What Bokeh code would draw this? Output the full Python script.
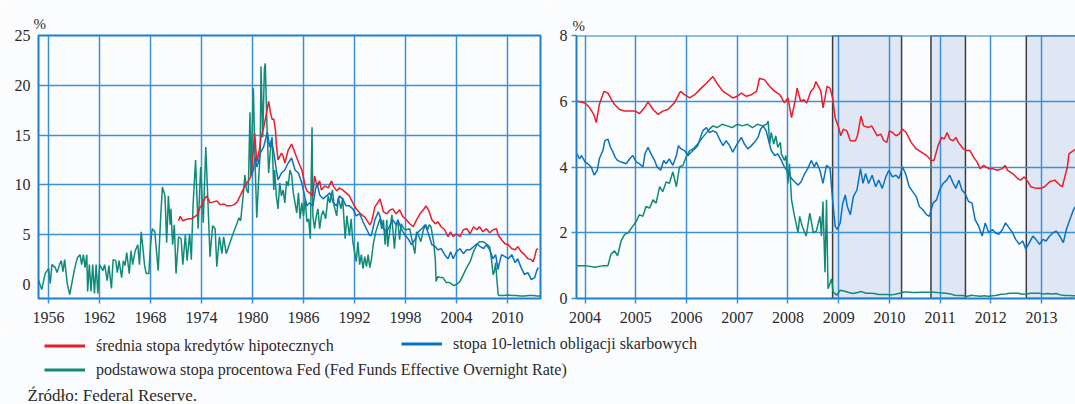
from bokeh.plotting import figure
from bokeh.models import FixedTicker, Label, Legend, LegendItem, Span, Range1d
from bokeh.layouts import column, row
from bokeh.embed import file_html
from bokeh.resources import INLINE

# ---------------- data: long panel (1955-2013) ----------------
fed_long_year = [1954.84, 1955.2, 1955.6, 1956.0, 1956.2, 1956.4, 1956.8, 1957.0, 1957.3, 1957.5, 1957.7, 1957.9,
                 1958.2, 1958.5, 1958.8, 1959.1, 1959.4, 1959.7, 1959.9, 1960.1, 1960.3, 1960.5, 1960.6, 1960.8,
                 1961.0, 1961.2, 1961.4, 1961.6, 1961.8, 1962.0, 1962.4, 1962.6, 1962.9, 1963.1, 1963.4, 1963.6,
                 1963.9, 1964.1, 1964.3, 1964.6, 1964.8, 1965.0, 1965.2, 1965.5, 1965.7, 1965.9, 1966.2, 1966.5,
                 1966.7, 1966.9, 1967.1, 1967.3, 1967.5, 1967.8, 1968.0, 1968.2, 1968.5, 1968.7, 1968.9, 1969.2,
                 1969.4, 1969.7, 1969.9, 1970.1, 1970.3, 1970.4, 1970.6, 1970.8, 1971.0, 1971.3, 1971.6, 1971.8,
                 1972.1, 1972.3, 1972.5, 1972.6, 1972.8, 1973.0, 1973.3, 1973.6, 1973.9, 1974.2, 1974.5, 1974.7,
                 1975.0, 1975.3, 1975.6, 1975.8, 1976.1, 1976.4, 1976.6, 1976.9, 1977.3, 1977.5, 1977.8, 1978.2,
                 1978.4, 1978.6, 1978.9, 1979.1, 1979.3, 1979.5, 1979.7, 1979.8, 1980.1, 1980.3, 1980.5, 1980.7,
                 1980.9, 1981.0, 1981.2, 1981.4, 1981.5, 1981.7, 1981.9, 1982.1, 1982.3, 1982.5, 1982.6, 1982.8,
                 1983.0, 1983.2, 1983.4, 1983.6, 1983.8, 1984.0, 1984.2, 1984.4, 1984.6, 1984.8, 1985.0, 1985.2,
                 1985.4, 1985.6, 1985.8, 1986.0, 1986.2, 1986.4, 1986.6, 1986.8, 1987.0, 1987.1, 1987.3, 1987.5,
                 1987.7, 1987.9, 1988.1, 1988.3, 1988.6, 1988.9, 1989.1, 1989.4, 1989.6, 1989.9, 1990.1, 1990.4,
                 1990.6, 1990.9, 1991.1, 1991.4, 1991.6, 1991.8, 1992.0, 1992.2, 1992.4, 1992.6, 1992.8, 1993.0,
                 1993.2, 1993.4, 1993.6, 1993.8, 1994.0, 1994.2, 1994.5, 1994.8, 1995.0, 1995.2, 1995.4, 1995.6,
                 1995.8, 1995.9, 1996.4, 1996.5, 1996.7, 1996.9, 1997.1, 1997.3, 1997.5, 1997.8, 1998.1, 1998.5,
                 1998.8, 1999.1, 1999.3, 1999.5, 1999.8, 2000.1, 2000.4, 2000.6, 2000.8, 2001.0, 2001.3, 2001.5,
                 2001.6, 2001.8, 2002.1, 2002.4, 2002.8, 2003.2, 2003.5, 2003.7, 2004.0, 2004.4, 2004.8, 2005.2,
                 2005.6, 2006.0, 2006.4, 2006.7, 2007.1, 2007.5, 2007.9, 2008.1, 2008.3, 2008.45, 2008.6, 2008.75,
                 2008.9, 2009.0, 2009.5, 2010.0, 2010.5, 2011.0, 2011.5, 2012.0, 2012.5, 2013.0, 2013.5, 2013.85]
fed_long_val = [0.4, -0.5, 1.1, 1.6, 0.1, 2.0, 1.7, 1.2, 2.0, 2.4, 1.3, 2.5,
                0.1, -1.0, 0.4, 1.7, 2.7, 3.0, 2.0, 3.0, 1.7, 3.0, -0.7, 2.0,
                -0.7, 2.0, -0.9, 2.0, -0.9, 2.0, 1.4, 2.0, 0.4, 1.9, -0.4, 2.5,
                2.4, 1.2, 2.4, 0.7, 2.4, 1.9, 3.2, 1.1, 3.4, 2.0, 3.4, 4.0,
                2.0, 5.3, 3.7, 1.9, 1.1, 1.1, 4.0, 5.6, 5.3, 3.4, 1.4, 6.9,
                9.8, 8.9, 4.2, 8.9, 6.0, 7.6, 4.0, 6.0, 1.1, 4.8, 4.6, 2.0,
                5.0, 2.4, 4.2, 5.1, 2.5, 7.9, 12.5, 5.6, 11.8, 6.2, 13.8, 9.5,
                2.8, 5.9, 5.6, 1.8, 4.8, 3.1, 4.8, 3.1, 4.1, 4.6, 5.3, 6.2,
                6.7, 6.4, 8.9, 11.0, 9.5, 9.2, 17.3, 10.9, 19.7, 12.2, 6.7, 10.2,
                13.2, 21.9, 14.8, 21.7, 22.2, 15.8, 11.2, 13.5, 14.8, 9.5, 11.5, 8.9,
                7.6, 10.2, 8.9, 9.5, 8.2, 10.4, 9.9, 11.5, 11.0, 9.2, 8.2, 7.2,
                9.2, 6.6, 8.2, 6.9, 8.6, 6.3, 6.6, 4.6, 15.8, 6.9, 5.6, 6.9,
                7.6, 5.6, 6.9, 7.4, 6.6, 8.9, 8.2, 9.5, 7.9, 6.9, 8.7, 7.6,
                8.7, 4.6, 6.9, 4.9, 6.6, 4.3, 3.3, 2.3, 4.3, 2.0, 3.0, 1.6,
                2.8, 1.8, 3.0, 1.7, 2.6, 4.0, 5.3, 6.1, 6.6, 5.6, 6.5, 4.0,
                6.5, 3.8, 7.0, 5.6, 3.6, 6.0, 6.3, 4.5, 6.1, 5.6, 5.5, 5.6,
                4.3, 3.1, 5.3, 5.0, 4.3, 5.5, 6.0, 5.5, 6.0, 5.8, 4.3, 2.6,
                0.3, 0.8, 0.7, 0.7, 0.2, 0.2, 0.0, -0.1, 0.0, 0.3, 1.0, 1.7,
                2.3, 3.3, 4.0, 4.3, 4.3, 4.1, 3.8, 2.6, 1.0, 1.3, 2.2, 0.5,
                -1.0, -1.1, -1.1, -1.05, -1.1, -1.1, -1.15, -1.15, -1.1, -1.1, -1.15, -1.15]

mort_long_year = [1971.3, 1971.5, 1971.8, 1972.1, 1972.5, 1972.8, 1973.0, 1973.5, 1973.8, 1974.0, 1974.3, 1974.6,
                  1975.0, 1975.4, 1975.8, 1976.2, 1976.6, 1977.0, 1977.4, 1977.8, 1978.2, 1978.6, 1979.1, 1979.5,
                  1979.8, 1980.0, 1980.25, 1980.5, 1980.8, 1981.0, 1981.3, 1981.6, 1981.9, 1982.1, 1982.3, 1982.5,
                  1982.7, 1982.8, 1983.0, 1983.4, 1983.6, 1983.8, 1984.2, 1984.6, 1985.0, 1985.4, 1985.8, 1986.2,
                  1986.4, 1986.7, 1987.1, 1987.3, 1987.6, 1987.9, 1988.1, 1988.5, 1988.9, 1989.3, 1989.5, 1989.9,
                  1990.2, 1990.6, 1991.0, 1991.4, 1991.8, 1992.2, 1992.6, 1993.0, 1993.2, 1993.5, 1993.8, 1994.0,
                  1994.4, 1994.8, 1995.0, 1995.4, 1995.8, 1996.2, 1996.5, 1996.9, 1997.3, 1997.7, 1998.1, 1998.5,
                  1998.9, 1999.3, 1999.7, 2000.1, 2000.4, 2000.7, 2001.1, 2001.5, 2001.8, 2002.2, 2002.6, 2003.0,
                  2003.3, 2003.6, 2004.0, 2004.4, 2004.8, 2005.2, 2005.6, 2006.0, 2006.4, 2006.7, 2007.1, 2007.5,
                  2007.9, 2008.3, 2008.7, 2008.9, 2009.3, 2009.7, 2010.1, 2010.5, 2010.9, 2011.2, 2011.6, 2012.0,
                  2012.4, 2012.8, 2013.0, 2013.2, 2013.4, 2013.6]
mort_long_val = [6.4, 6.85, 6.4, 6.5, 6.6, 6.6, 6.7, 7.0, 7.7, 7.9, 8.5, 8.9,
                 8.2, 8.3, 8.4, 8.0, 8.1, 7.9, 7.9, 8.0, 8.3, 9.0, 9.9, 10.4,
                 10.8, 12.4, 15.2, 12.3, 13.5, 14.8, 15.7, 17.0, 18.4, 17.3, 16.6, 16.6,
                 15.5, 14.1, 12.5, 13.2, 12.9, 12.2, 13.5, 14.1, 13.2, 12.3, 11.5, 9.9,
                 9.4, 9.2, 8.9, 10.9, 9.9, 10.4, 9.5, 9.9, 9.7, 10.4, 9.9, 9.4,
                 9.7, 9.5, 9.2, 8.9, 8.2, 7.6, 7.2, 6.9, 6.8, 6.4, 6.0, 6.3,
                 7.8, 8.3, 8.6, 7.3, 7.1, 7.5, 7.6, 7.1, 7.5, 6.8, 6.5, 6.1,
                 5.8, 6.5, 7.1, 7.5, 7.9, 7.5, 6.5, 6.1, 6.3, 5.8, 5.5, 4.8,
                 5.3, 4.8, 5.1, 4.8, 5.5, 5.6, 5.1, 5.8, 5.5, 5.8, 5.3, 5.6,
                 5.2, 5.5, 5.6, 4.97, 4.5, 4.1, 4.0, 3.6, 3.5, 3.8, 3.3, 3.0,
                 2.6, 2.5, 2.3, 2.8, 3.5, 3.6]

bond_long_year = [1979.9, 1980.1, 1980.3, 1980.5, 1980.7, 1980.9, 1981.3, 1981.6, 1981.75, 1982.0, 1982.2, 1982.5,
                  1982.8, 1983.0, 1983.4, 1983.8, 1984.2, 1984.6, 1985.0, 1985.4, 1985.8, 1986.2, 1986.4, 1986.7,
                  1987.1, 1987.4, 1987.6, 1987.9, 1988.3, 1988.7, 1989.1, 1989.5, 1989.9, 1990.2, 1990.6, 1991.0,
                  1991.4, 1991.8, 1992.2, 1992.6, 1993.0, 1993.4, 1993.8, 1994.0, 1994.4, 1994.8, 1995.0, 1995.4,
                  1995.8, 1996.2, 1996.5, 1996.9, 1997.1, 1997.5, 1997.9, 1998.3, 1998.7, 1999.1, 1999.5, 1999.9,
                  2000.3, 2000.7, 2001.1, 2001.5, 2001.8, 2002.2, 2002.6, 2003.0, 2003.3, 2003.6, 2004.0, 2004.4,
                  2004.8, 2005.2, 2005.6, 2006.0, 2006.4, 2006.8, 2007.2, 2007.5, 2007.9, 2008.3, 2008.6, 2008.9,
                  2009.0, 2009.3, 2009.7, 2010.1, 2010.5, 2010.9, 2011.2, 2011.6, 2012.0, 2012.4, 2012.8, 2013.2,
                  2013.4, 2013.6]
bond_long_val = [11.0, 11.5, 12.8, 11.8, 12.3, 13.2, 13.8, 14.8, 15.3, 13.8, 14.5, 13.3,
                 11.5, 10.5, 11.2, 11.5, 12.2, 12.7, 11.5, 11.2, 10.2, 8.6, 7.9, 8.2,
                 7.9, 9.5, 10.2, 9.0, 8.6, 8.9, 9.2, 8.2, 7.9, 8.9, 8.6, 7.9,
                 7.9, 7.6, 6.9, 7.1, 6.3, 5.6, 4.9, 5.0, 6.5, 7.3, 6.8, 5.6,
                 5.3, 6.0, 6.5, 6.0, 6.5, 5.6, 5.0, 4.6, 4.0, 4.5, 5.3, 5.6,
                 6.0, 5.1, 4.0, 3.8, 3.5, 3.6, 3.0, 2.6, 3.3, 2.6, 3.3, 3.6,
                 3.1, 3.5, 3.5, 3.8, 4.1, 3.8, 3.6, 4.0, 3.5, 2.6, 3.0, 1.5,
                 2.0, 3.0, 2.8, 2.6, 3.0, 2.2, 2.6, 1.7, 1.0, 1.2, 0.5, 0.7,
                 1.3, 1.7]

# ---------------- data: recent panel (2004-2013) ----------------
mort_year = [2003.84, 2004.0, 2004.09, 2004.17, 2004.22, 2004.28, 2004.37, 2004.45, 2004.52, 2004.58, 2004.68, 2004.78,
             2004.99, 2005.07, 2005.17, 2005.24, 2005.34, 2005.44, 2005.53, 2005.63, 2005.76, 2005.88, 2005.96, 2006.06,
             2006.16, 2006.29, 2006.39, 2006.52, 2006.62, 2006.72, 2006.82, 2006.91, 2007.0, 2007.08, 2007.18, 2007.28,
             2007.38, 2007.44, 2007.54, 2007.64, 2007.74, 2007.84, 2007.93, 2008.0, 2008.07, 2008.14, 2008.18, 2008.25,
             2008.31, 2008.37, 2008.45, 2008.51, 2008.55, 2008.6, 2008.65, 2008.69, 2008.73, 2008.77, 2008.83, 2008.88,
             2008.93, 2009.0, 2009.04, 2009.09, 2009.16, 2009.23, 2009.33, 2009.37, 2009.44, 2009.49, 2009.59, 2009.65,
             2009.76, 2009.83, 2009.89, 2009.95, 2010.0, 2010.06, 2010.13, 2010.19, 2010.26, 2010.33, 2010.43, 2010.53,
             2010.63, 2010.73, 2010.83, 2010.88, 2010.96, 2011.03, 2011.08, 2011.14, 2011.19, 2011.26, 2011.31, 2011.36,
             2011.46, 2011.53, 2011.59, 2011.66, 2011.73, 2011.79, 2011.86, 2011.96, 2012.03, 2012.13, 2012.23, 2012.28,
             2012.33, 2012.43, 2012.53, 2012.59, 2012.66, 2012.73, 2012.79, 2012.89, 2012.99, 2013.06, 2013.16, 2013.26,
             2013.36, 2013.41, 2013.46, 2013.51, 2013.54, 2013.63, 2013.68, 2013.72]
mort_val = [6.00, 5.95, 5.80, 5.60, 5.35, 5.90, 6.30, 6.25, 6.05, 5.90, 5.75, 5.70,
            5.70, 5.62, 5.80, 5.98, 5.75, 5.60, 5.70, 5.75, 5.95, 6.30, 6.20, 6.10,
            6.20, 6.40, 6.55, 6.75, 6.50, 6.30, 6.20, 6.10, 6.15, 6.25, 6.15, 6.20,
            6.30, 6.70, 6.65, 6.45, 6.30, 6.20, 5.95, 6.10, 5.50, 6.00, 6.40, 6.00,
            6.05, 5.95, 6.30, 6.40, 6.60, 6.45, 6.30, 5.80, 6.10, 6.45, 6.40, 6.10,
            5.50, 5.20, 4.95, 5.15, 5.10, 4.80, 4.80, 4.95, 5.55, 5.25, 5.20, 5.25,
            4.95, 5.00, 4.80, 4.75, 5.10, 5.05, 4.95, 5.00, 5.15, 5.05, 4.75, 4.55,
            4.45, 4.35, 4.20, 4.20, 4.65, 4.90, 4.85, 5.05, 4.85, 4.80, 4.90, 4.75,
            4.55, 4.50, 4.50, 4.30, 4.15, 3.95, 4.05, 3.95, 3.95, 3.90, 3.95, 4.05,
            3.90, 3.80, 3.65, 3.60, 3.70, 3.55, 3.40, 3.35, 3.35, 3.40, 3.55, 3.60,
            3.45, 3.40, 3.70, 4.00, 4.40, 4.50, 4.55, 4.60]

bond_year = [2003.84, 2003.89, 2003.93, 2004.0, 2004.05, 2004.12, 2004.18, 2004.24, 2004.28, 2004.35, 2004.39, 2004.45,
             2004.5, 2004.55, 2004.59, 2004.64, 2004.71, 2004.81, 2004.88, 2004.94, 2005.01, 2005.07, 2005.14, 2005.18,
             2005.24, 2005.3, 2005.37, 2005.42, 2005.49, 2005.55, 2005.6, 2005.66, 2005.73, 2005.8, 2005.84, 2005.89,
             2005.96, 2006.03, 2006.09, 2006.16, 2006.22, 2006.32, 2006.39, 2006.45, 2006.52, 2006.59, 2006.65, 2006.72,
             2006.78, 2006.85, 2006.91, 2006.98, 2007.08, 2007.14, 2007.21, 2007.28, 2007.34, 2007.41, 2007.46, 2007.51,
             2007.57, 2007.62, 2007.67, 2007.74, 2007.8, 2007.87, 2007.93, 2008.0, 2008.07, 2008.13, 2008.2, 2008.26,
             2008.33, 2008.39, 2008.46, 2008.52, 2008.56, 2008.63, 2008.69, 2008.76, 2008.83, 2008.88, 2008.93, 2008.97,
             2009.03, 2009.08, 2009.13, 2009.17, 2009.23, 2009.29, 2009.36, 2009.43, 2009.48, 2009.53, 2009.59, 2009.66,
             2009.73, 2009.79, 2009.86, 2009.93, 2009.99, 2010.06, 2010.13, 2010.19, 2010.26, 2010.33, 2010.39, 2010.46,
             2010.53, 2010.59, 2010.66, 2010.73, 2010.79, 2010.86, 2010.93, 2010.99, 2011.06, 2011.13, 2011.19, 2011.26,
             2011.31, 2011.37, 2011.43, 2011.49, 2011.56, 2011.63, 2011.69, 2011.76, 2011.83, 2011.89, 2011.96, 2012.03,
             2012.09, 2012.16, 2012.23, 2012.29, 2012.36, 2012.43, 2012.49, 2012.56, 2012.63, 2012.69, 2012.76, 2012.83,
             2012.89, 2012.96, 2013.03, 2013.09, 2013.16, 2013.23, 2013.29, 2013.36, 2013.43, 2013.49, 2013.56, 2013.63,
             2013.69]
bond_val = [4.40, 4.25, 4.35, 4.15, 4.10, 4.00, 3.75, 3.90, 4.25, 4.50, 4.80, 4.85,
            4.60, 4.45, 4.30, 4.20, 4.15, 4.10, 4.25, 4.35, 4.15, 4.10, 4.00, 4.40,
            4.60, 4.40, 4.20, 4.00, 3.90, 4.20, 4.10, 4.25, 4.05, 4.35, 4.65, 4.55,
            4.50, 4.35, 4.45, 4.55, 4.65, 5.10, 5.20, 5.05, 5.10, 5.05, 4.85, 4.65,
            4.80, 4.65, 4.45, 4.65, 4.90, 4.70, 4.55, 4.65, 4.75, 4.90, 5.15, 5.25,
            5.10, 4.80, 4.50, 4.35, 4.40, 4.20, 4.00, 3.85, 3.65, 3.55, 3.45, 3.55,
            3.80, 3.95, 4.20, 4.00, 4.15, 3.90, 3.50, 4.05, 3.95, 3.00, 2.20, 2.10,
            2.30, 2.90, 3.15, 2.80, 2.55, 3.10, 3.30, 3.95, 3.50, 3.80, 3.50, 3.75,
            3.40, 3.60, 3.35, 3.70, 3.90, 3.70, 3.75, 3.65, 4.00, 3.75, 3.40, 3.25,
            3.10, 2.80, 2.70, 2.55, 2.50, 2.90, 3.00, 3.30, 3.50, 3.60, 3.75, 3.50,
            3.35, 3.60, 3.30, 3.20, 2.95, 2.90, 2.40, 2.20, 1.90, 2.30, 2.00, 2.10,
            2.00, 1.95, 2.10, 2.30, 2.15, 2.00, 1.80, 1.65, 1.75, 1.50, 1.70, 1.90,
            1.80, 1.65, 1.80, 1.75, 1.90, 2.00, 2.05, 1.90, 1.70, 2.10, 2.40, 2.70,
            2.85]

fed_year = [2003.84, 2004.0, 2004.2, 2004.35, 2004.45, 2004.51, 2004.58, 2004.64, 2004.71, 2004.78, 2004.85, 2004.94,
            2005.01, 2005.07, 2005.14, 2005.2, 2005.27, 2005.34, 2005.4, 2005.47, 2005.53, 2005.6, 2005.66, 2005.73,
            2005.8, 2005.86, 2005.93, 2005.99, 2006.06, 2006.13, 2006.22, 2006.32, 2006.42, 2006.52, 2006.6, 2006.7,
            2006.8, 2006.9, 2007.0, 2007.1, 2007.2, 2007.3, 2007.4, 2007.5, 2007.58, 2007.61, 2007.64, 2007.67,
            2007.72, 2007.76, 2007.8, 2007.85, 2007.87, 2007.93, 2007.96, 2008.0, 2008.03, 2008.07, 2008.13, 2008.2,
            2008.23, 2008.28, 2008.36, 2008.43, 2008.5, 2008.56, 2008.63, 2008.66, 2008.69, 2008.73, 2008.76, 2008.79,
            2008.86, 2008.89, 2008.96, 2009.03, 2009.12, 2009.2, 2009.29, 2009.37, 2009.45, 2009.54, 2009.62, 2009.7,
            2009.79, 2009.87, 2009.95, 2010.04, 2010.12, 2010.2, 2010.29, 2010.37, 2010.45, 2010.54, 2010.62, 2010.7,
            2010.79, 2010.87, 2010.95, 2011.04, 2011.12, 2011.2, 2011.29, 2011.37, 2011.45, 2011.54, 2011.62, 2011.7,
            2011.79, 2011.87, 2011.95, 2012.04, 2012.12, 2012.2, 2012.29, 2012.37, 2012.45, 2012.54, 2012.62, 2012.7,
            2012.79, 2012.87, 2012.95, 2013.04, 2013.12, 2013.2, 2013.29, 2013.37, 2013.45, 2013.54, 2013.62, 2013.7]
fed_val = [1.00, 1.00, 0.95, 1.00, 1.00, 1.35, 1.45, 1.30, 1.75, 1.95, 2.00, 2.20,
           2.35, 2.55, 2.50, 2.80, 2.75, 3.00, 2.90, 3.40, 3.25, 3.55, 3.50, 3.85,
           3.40, 4.00, 4.05, 4.30, 4.50, 4.55, 4.70, 4.90, 5.10, 5.25, 5.20, 5.30,
           5.25, 5.20, 5.30, 5.25, 5.30, 5.20, 5.30, 5.25, 5.30, 5.40, 4.70, 5.05,
           4.70, 4.95, 4.60, 4.75, 4.40, 4.20, 4.35, 3.50, 4.10, 3.00, 2.50, 2.00,
           2.50, 2.20, 1.90, 2.60, 2.00, 2.05, 2.50, 1.90, 2.95, 0.80, 3.00, 0.30,
           0.60, 0.20, 0.10, 0.25, 0.22, 0.18, 0.15, 0.18, 0.21, 0.16, 0.16, 0.15,
           0.12, 0.12, 0.12, 0.11, 0.13, 0.16, 0.20, 0.20, 0.18, 0.18, 0.19, 0.19,
           0.19, 0.19, 0.18, 0.17, 0.16, 0.14, 0.10, 0.09, 0.09, 0.07, 0.10, 0.08,
           0.07, 0.08, 0.07, 0.08, 0.10, 0.13, 0.14, 0.16, 0.16, 0.16, 0.13, 0.14,
           0.16, 0.16, 0.16, 0.14, 0.15, 0.14, 0.15, 0.11, 0.09, 0.09, 0.08, 0.08]

qe_start = [2008.88, 2010.82, 2012.70]
qe_end = [2010.24, 2011.50, 2014.20]

long_ticks = [1956, 1962, 1968, 1974, 1980, 1986, 1992, 1998, 2004, 2010]
long_yticks = [0, 5, 10, 15, 20, 25]
short_ticks = [2004, 2005, 2006, 2007, 2008, 2009, 2010, 2011, 2012, 2013]
short_yticks = [0, 2, 4, 6, 8]

label_mort = "średnia stopa kredytów hipotecznych"
label_bond = "stopa 10-letnich obligacji skarbowych"
label_fed = "podstawowa stopa procentowa Fed (Fed Funds Effective Overnight Rate)"
source_text = "Źródło: Federal Reserve."
unit_text = "%"

# ---------------- style ----------------
RED = "#ec1c2a"
BLUE = "#0a72c2"
GREEN = "#118a78"
GRID = "#3d90d6"
FRAME = "#1f7fcc"
BG = "#fbfcfe"
FONT = "Liberation Serif"
TXT = "#2a2a2a"
NAN = float("nan")


def style_axes(p, xt, yt, ygrid_ticks, ytick_out, ystand):
    p.xaxis.ticker = FixedTicker(ticks=xt)
    p.yaxis.ticker = FixedTicker(ticks=yt)
    p.xgrid.ticker = FixedTicker(ticks=xt)
    p.ygrid.ticker = FixedTicker(ticks=ygrid_ticks)
    p.grid.grid_line_color = GRID
    p.grid.grid_line_width = 1.5
    for ax in (p.xaxis, p.yaxis):
        ax.major_label_text_font = FONT
        ax.major_label_text_font_size = "16px"
        ax.major_label_text_color = TXT
        ax.minor_tick_line_color = None
        ax.major_tick_line_color = GRID
        ax.major_tick_line_width = 1.5
        ax.major_tick_in = 0
    p.xaxis.major_tick_out = 5
    p.xaxis.major_label_standoff = 8
    p.yaxis.major_tick_out = ytick_out
    p.yaxis.major_label_standoff = ystand
    p.title.text = unit_text
    p.title.align = "left"
    p.title.text_font = FONT
    p.title.text_font_size = "15px"
    p.title.text_font_style = "normal"
    p.title.text_color = TXT


# ---------------- left panel ----------------
p1 = figure(width=550, height=334, x_range=Range1d(1954.82, 2013.88), y_range=Range1d(-1.4, 25),
            output_backend="svg", toolbar_location=None,
            min_border_left=38, min_border_right=10, min_border_top=34, min_border_bottom=34,
            background_fill_color=BG, border_fill_color=BG)
style_axes(p1, long_ticks, long_yticks, [5, 10, 15, 20, 25], 0, 8)
p1.title.offset = -5
p1.title.standoff = 8
p1.axis.axis_line_color = None
p1.outline_line_color = FRAME
p1.outline_line_width = 2
p1.outline_line_alpha = 1

p1.line(fed_long_year, fed_long_val, color=GREEN, line_width=1.5)
p1.line(mort_long_year, mort_long_val, color=RED, line_width=1.5)
p1.line(bond_long_year, bond_long_val, color=BLUE, line_width=1.5)

# ---------------- right panel ----------------
p2 = figure(width=525, height=334, x_range=Range1d(2003.83, 2013.67), y_range=Range1d(0, 8),
            output_backend="svg", toolbar_location=None,
            min_border_left=26, min_border_right=0, min_border_top=35, min_border_bottom=36,
            background_fill_color=BG, border_fill_color=BG)
style_axes(p2, short_ticks, short_yticks, short_yticks, 5, 4)
p2.title.offset = -4
p2.title.standoff = 4
p2.outline_line_color = None
p2.axis.axis_line_color = FRAME
p2.axis.axis_line_width = 2
p2.quad(left=qe_start, right=qe_end, bottom=0, top=8, fill_color="#dfe7f5", fill_alpha=1,
        line_color="#3c3c3c", line_width=1.5, level="image")
p2.add_layout(Span(location=8, dimension="width", line_color=FRAME, line_width=2))
p2.line(fed_year, fed_val, color=GREEN, line_width=1.5)
p2.line(mort_year, mort_val, color=RED, line_width=1.5)
p2.line(bond_year, bond_val, color=BLUE, line_width=1.5)

# ---------------- legend strip ----------------
p3 = figure(width=1075, height=70, x_range=Range1d(0, 1), y_range=Range1d(0, 1),
            output_backend="svg", toolbar_location=None, x_axis_location=None, y_axis_location=None,
            min_border=0, background_fill_color=BG, border_fill_color=BG)
p3.grid.visible = False
p3.outline_line_color = None
r_m = p3.line(x=[NAN], y=[NAN], color=RED, line_width=3)
r_b = p3.line(x=[NAN], y=[NAN], color=BLUE, line_width=3)
r_f = p3.line(x=[NAN], y=[NAN], color=GREEN, line_width=3)


def make_legend(items, loc):
    lg = Legend(items=items, location=loc, orientation="vertical")
    lg.label_text_font = FONT
    lg.label_text_font_size = "16px"
    lg.label_text_color = TXT
    lg.glyph_width = 41
    lg.glyph_height = 19
    lg.label_height = 19
    lg.label_standoff = 11
    lg.spacing = 5
    lg.padding = 0
    lg.margin = 0
    lg.border_line_color = None
    lg.background_fill_alpha = 0
    return lg


p3.add_layout(make_legend([LegendItem(label=label_mort, renderers=[r_m]),
                           LegendItem(label=label_fed, renderers=[r_f])], (44, 25)))
p3.add_layout(make_legend([LegendItem(label=label_bond, renderers=[r_b])], (401, 51)))
p3.add_layout(Label(x=27, y=9, x_units="screen", y_units="screen", text=source_text,
                    text_baseline="middle", text_font=FONT, text_font_size="17px", text_color=TXT))

layout = column(row(p1, p2), p3)
open("out.html", "w").write(file_html(layout, INLINE))
